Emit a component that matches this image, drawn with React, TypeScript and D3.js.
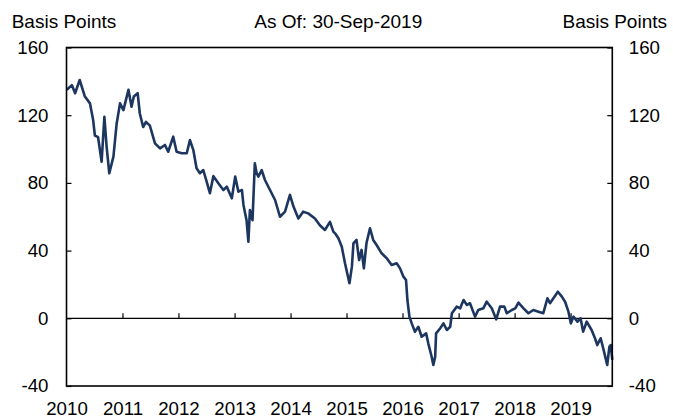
import React, { useRef, useEffect } from "react";
import {
  select,
  line,
  scaleLinear,
  scaleUtc,
  axisLeft,
  axisRight,
  axisTop,
  axisBottom,
  utcParse,
  utcYear,
  utcFormat,
} from "d3";

// spread series (basis points)
const dates = [
  "2010-01-03", "2010-02-05", "2010-02-26", "2010-03-28", "2010-05-01", "2010-06-03",
  "2010-06-24", "2010-07-05", "2010-07-26", "2010-08-18", "2010-09-05", "2010-09-20",
  "2010-10-07", "2010-11-03", "2010-11-24", "2010-12-16", "2011-01-07", "2011-02-09",
  "2011-03-01", "2011-03-16", "2011-04-10", "2011-04-24", "2011-05-16", "2011-06-03",
  "2011-06-28", "2011-08-01", "2011-09-03", "2011-10-05", "2011-10-26", "2011-11-28",
  "2011-12-20", "2012-01-22", "2012-02-24", "2012-03-16", "2012-04-07", "2012-04-28",
  "2012-05-20", "2012-06-11", "2012-07-03", "2012-07-24", "2012-08-16", "2012-09-17",
  "2012-10-20", "2012-11-11", "2012-12-14", "2013-01-05", "2013-01-26", "2013-02-18",
  "2013-02-28", "2013-03-20", "2013-04-01", "2013-04-11", "2013-04-28", "2013-05-13",
  "2013-05-24", "2013-06-05", "2013-06-27", "2013-07-18", "2013-08-20", "2013-09-22",
  "2013-10-24", "2013-11-26", "2013-12-28", "2014-01-20", "2014-02-21", "2014-03-24",
  "2014-04-26", "2014-06-09", "2014-07-11", "2014-08-13", "2014-09-15", "2014-10-07",
  "2014-10-18", "2014-11-09", "2014-12-01", "2014-12-22", "2015-01-20", "2015-02-05",
  "2015-02-15", "2015-03-07", "2015-03-24", "2015-04-09", "2015-04-24", "2015-05-11",
  "2015-06-03", "2015-06-24", "2015-07-16", "2015-08-18", "2015-09-20", "2015-10-22",
  "2015-11-24", "2015-12-16", "2016-01-07", "2016-01-24", "2016-02-02", "2016-02-15",
  "2016-03-01", "2016-03-22", "2016-04-13", "2016-05-05", "2016-06-03", "2016-06-17",
  "2016-07-09", "2016-07-20", "2016-08-01", "2016-08-07", "2016-09-03", "2016-09-24",
  "2016-10-16", "2016-11-07", "2016-11-18", "2016-12-20", "2017-01-11", "2017-02-02",
  "2017-02-24", "2017-03-16", "2017-04-18", "2017-05-09", "2017-06-11", "2017-07-03",
  "2017-08-05", "2017-09-03", "2017-09-28", "2017-10-26", "2017-11-11", "2017-12-14",
  "2018-01-05", "2018-01-26", "2018-02-28", "2018-04-01", "2018-05-03", "2018-06-05",
  "2018-07-07", "2018-08-03", "2018-08-20", "2018-09-11", "2018-10-10", "2018-11-05",
  "2018-11-26", "2018-12-18", "2019-01-03", "2019-01-20", "2019-02-15", "2019-03-07",
  "2019-03-24", "2019-04-16", "2019-05-18", "2019-06-09", "2019-06-24", "2019-07-16",
  "2019-08-07", "2019-08-28", "2019-09-11", "2019-09-20", "2019-09-30",
];

const spread = [
  135, 137.8, 133, 140.8, 131, 127,
  117, 108, 107, 92.5, 119, 101,
  85.7, 95.5, 115, 127, 123, 135,
  125, 131, 133, 121, 113, 116,
  114, 103.4, 100.4, 102.4, 98.4, 107.3,
  98.4, 97.5, 97.5, 105.3, 99.4, 88.6,
  85.7, 87.6, 80.7, 73.9, 84, 79.8,
  75.8, 77.8, 70.9, 83.7, 74.8, 75.8,
  67, 58, 45.3, 64, 58, 91.6,
  86, 83.7, 87.6, 81.7, 75.8, 69.9,
  60, 63, 72.9, 66, 59, 63,
  62, 59, 55, 52.2, 57, 51.2,
  50.2, 47.3, 42.3, 32.5, 20.7, 30.5,
  44.3, 46.3, 34.4, 40.4, 29.5, 44.3,
  53.2, 46.3, 43.3, 38.4, 35.5, 31.5,
  32.5, 29.5, 24.6, 22.6, 10.8, 1,
  -3, -7.9, -5, -10.9, -8.9, -14.8,
  -22.7, -27.6, -22.7, -8.9, -5.9, -3,
  -6.9, -5, 3, 6.9, 5.9, 10.8,
  7.9, 8.9, 1, 4.9, 5.9, 9.8,
  5.9, -0.6, 6.9, 6.9, 3, 4.9,
  5.9, 9.2, 5.9, 3, 4.9, 3.9,
  3, 11.8, 8.9, 11.8, 15.7, 12.8,
  9.8, 3.9, -3, 1, -2, 0,
  -7.9, -2, -6.9, -11.8, -15.8, -11.8,
  -19.7, -27.6, -16.8, -15.8, -24.6,
];

const yTicks = [-40, 0, 40, 80, 120, 160];
const axisTitle = "Basis Points";
const asOf = "As Of: 30-Sep-2019";

const W = 673;
const H = 420;
const FONT = "'Liberation Sans', Arial, sans-serif";

const App = () => {
  const svgRef = useRef<SVGSVGElement>(null);

  useEffect(() => {
    const svg = select(svgRef.current);
    svg.selectAll("*").remove();

    const parse = utcParse("%Y-%m-%d");
    const data = dates.map((d, i) => ({ date: parse(d) as Date, v: spread[i] }));

    const left = 66.5, right = 612.3, top = 47.5, bottom = 386;

    const x = scaleUtc()
      .domain([parse("2010-01-01") as Date, parse("2019-09-30") as Date])
      .range([left, right]);
    const y = scaleLinear().domain([-40, 160]).range([bottom, top]);

    const years = utcYear.range(parse("2010-01-01") as Date, parse("2019-12-31") as Date);

    // y axes, ticks pointing inward
    const yl = svg.append("g").attr("transform", `translate(${left},0)`)
      .call(axisLeft(y).tickValues(yTicks).tickSize(-5).tickPadding(18).tickFormat((d) => String(d)));
    const yr = svg.append("g").attr("transform", `translate(${right},0)`)
      .call(axisRight(y).tickValues(yTicks).tickSize(-5).tickPadding(16.5).tickFormat((d) => String(d)));

    // year ticks sit on the zero line
    const xt = svg.append("g").attr("transform", `translate(0,${y(0)})`)
      .call(axisTop(x).tickValues(years.slice(1)).tickSize(5).tickFormat(() => ""));
    const xl = svg.append("g").attr("transform", `translate(0,${bottom})`)
      .call(axisBottom(x).tickValues(years).tickSize(0).tickPadding(15.7).tickFormat((d) => utcFormat("%Y")(d as Date)));

    [yl, yr, xt, xl].forEach((g) => {
      g.select(".domain").remove();
      g.attr("font-family", FONT).attr("font-size", 18.7);
      g.selectAll("line").attr("stroke", "#000").attr("stroke-width", 1.2);
      g.selectAll("text").attr("fill", "#000");
    });

    // zero line
    svg.append("line")
      .attr("x1", left).attr("x2", right)
      .attr("y1", y(0)).attr("y2", y(0))
      .attr("stroke", "#000").attr("stroke-width", 1.2);

    const myLine = line<{ date: Date; v: number }>()
      .x((d) => x(d.date))
      .y((d) => y(d.v));

    svg.append("path")
      .datum(data)
      .attr("d", myLine)
      .attr("fill", "none")
      .attr("stroke", "#1c3660")
      .attr("stroke-width", 2.6)
      .attr("stroke-linejoin", "round");

    // frame
    svg.append("rect")
      .attr("x", left).attr("y", top)
      .attr("width", right - left).attr("height", bottom - top)
      .attr("fill", "none").attr("stroke", "#000").attr("stroke-width", 1.6);

    // header texts
    const hdr = svg.append("g").attr("font-family", FONT).attr("font-size", 19).attr("fill", "#000");
    hdr.append("text").attr("x", 11.7).attr("y", 28).text(axisTitle);
    hdr.append("text").attr("x", 338.3).attr("y", 28).attr("text-anchor", "middle").text(asOf);
    hdr.append("text").attr("x", 667).attr("y", 28).attr("text-anchor", "end").text(axisTitle);
  }, []);

  return (
    <svg
      ref={svgRef}
      width={W}
      height={H}
      style={{ position: "absolute", left: 0, top: 0, background: "#fff" }}
    ></svg>
  );
};

export default App;
